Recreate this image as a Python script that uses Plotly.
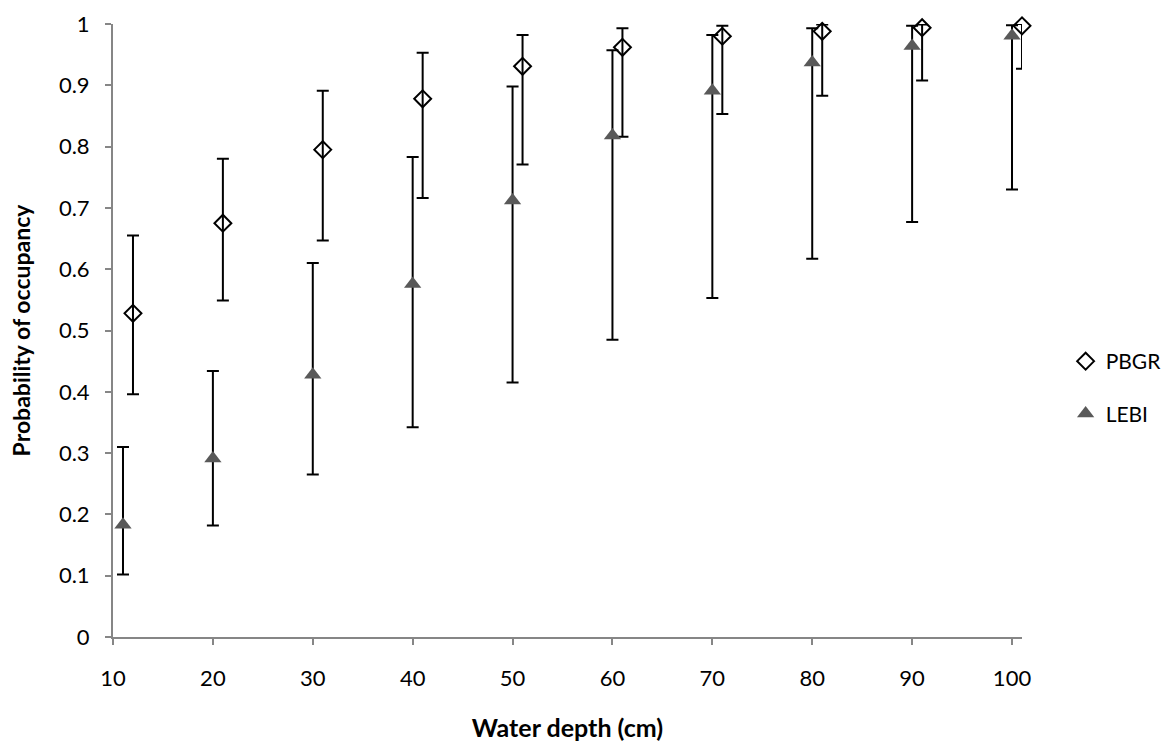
import plotly.graph_objects as go

# Data
pbgr_x = [12, 21, 31, 41, 51, 61, 71, 81, 91, 101]
pbgr_y = [0.528, 0.675, 0.795, 0.878, 0.931, 0.962, 0.980, 0.988, 0.994, 0.997]
pbgr_hi = [0.655, 0.780, 0.891, 0.953, 0.982, 0.993, 0.997, 0.999, 0.999, 1.000]
pbgr_lo = [0.396, 0.549, 0.647, 0.716, 0.771, 0.816, 0.853, 0.883, 0.908, 0.927]

lebi_x = [11, 20, 30, 40, 50, 60, 70, 80, 90, 100]
lebi_y = [0.183, 0.291, 0.428, 0.576, 0.712, 0.818, 0.891, 0.937, 0.964, 0.981]
lebi_hi = [0.310, 0.434, 0.610, 0.783, 0.898, 0.957, 0.982, 0.993, 0.997, 0.998]
lebi_lo = [0.102, 0.182, 0.265, 0.342, 0.415, 0.485, 0.553, 0.617, 0.677, 0.730]

x_ticks = [10, 20, 30, 40, 50, 60, 70, 80, 90, 100]
y_ticks = [0, 0.1, 0.2, 0.3, 0.4, 0.5, 0.6, 0.7, 0.8, 0.9, 1]
y_tick_text = ["0", "0.1", "0.2", "0.3", "0.4", "0.5", "0.6", "0.7", "0.8", "0.9", "1"]

FONT = "Lato, 'Open Sans', sans-serif"
AXIS_COLOR = "#868686"

def err(y, hi, lo):
    return dict(
        type="data", symmetric=False,
        array=[h - v for h, v in zip(hi, y)],
        arrayminus=[v - l for v, l in zip(y, lo)],
        color="black", thickness=2, width=6,
    )

fig = go.Figure()
fig.add_trace(go.Scatter(
    x=pbgr_x, y=pbgr_y, mode="markers", name="PBGR", legendgroup="a",
    cliponaxis=False,
    marker=dict(symbol="diamond-open", size=13, color="black", line=dict(width=2, color="black")),
    error_y=err(pbgr_y, pbgr_hi, pbgr_lo),
))
fig.add_trace(go.Scatter(
    x=lebi_x, y=lebi_y, mode="markers", name="LEBI", legendgroup="b",
    cliponaxis=False,
    marker=dict(symbol="triangle-up", size=15, color="#595959", line=dict(width=0)),
    error_y=err(lebi_y, lebi_hi, lebi_lo),
))

fig.update_layout(
    width=1163, height=744,
    margin=dict(l=113, r=141, t=24, b=107, autoexpand=False),
    paper_bgcolor="white", plot_bgcolor="white",
    font=dict(family=FONT, size=22, color="black"),
    showlegend=True,
    legend=dict(x=1.048, y=0.407, xanchor="left", yanchor="middle",
                tracegroupgap=22, font=dict(size=21), bgcolor="rgba(0,0,0,0)"),
    xaxis=dict(
        range=[10, 101], tickvals=x_ticks, ticktext=[str(v) for v in x_ticks],
        showgrid=False, zeroline=False, showline=True, linecolor=AXIS_COLOR, linewidth=2,
        ticks="outside", ticklen=6, tickwidth=2, tickcolor=AXIS_COLOR,
        ticklabelstandoff=15, tickfont=dict(size=22),
        title=dict(text="<b>Water depth (cm)</b>", font=dict(size=25), standoff=29),
    ),
    yaxis=dict(
        range=[0, 1], tickvals=y_ticks, ticktext=y_tick_text,
        showgrid=False, zeroline=False, showline=True, linecolor=AXIS_COLOR, linewidth=2,
        ticks="outside", ticklen=6, tickwidth=2, tickcolor=AXIS_COLOR,
        ticklabelstandoff=11, tickfont=dict(size=22),
        title=dict(text="<b>Probability of occupancy</b>", font=dict(size=23), standoff=22),
    ),
)

fig.write_html("out.html")
